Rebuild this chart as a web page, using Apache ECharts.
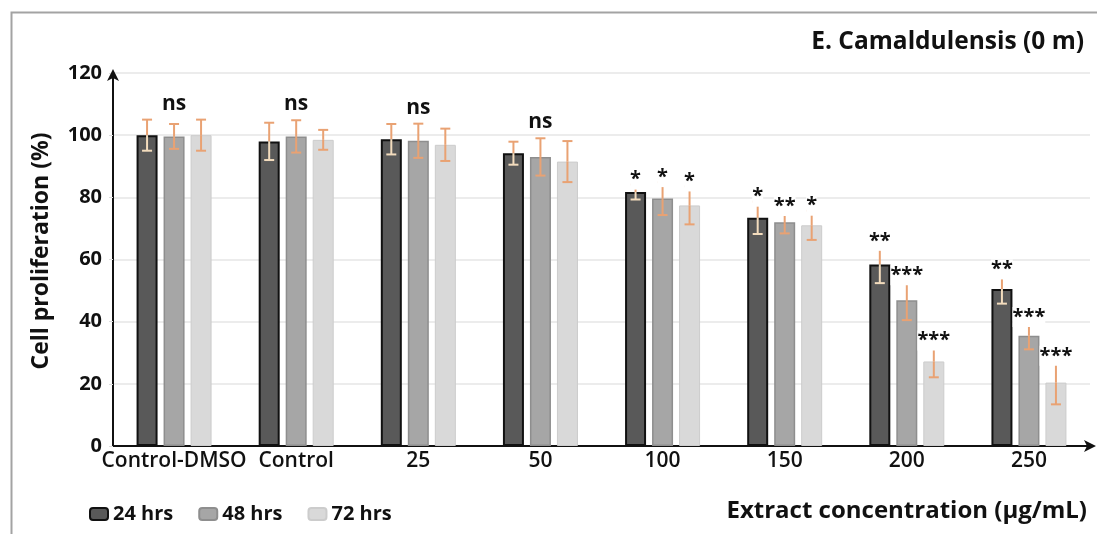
<!DOCTYPE html>
<html><head><meta charset="utf-8">
<script src="https://cdn.jsdelivr.net/npm/echarts@6/dist/echarts.min.js"></script>
<style>html,body{margin:0;padding:0;background:#fff}#c{width:1097px;height:534px}</style>
</head><body><div id="c"></div>
<script>
const categories = ['Control-DMSO','Control','25','50','100','150','200','250'];
const seriesNames = ['24 hrs','48 hrs','72 hrs'];
const v24 = [100, 98, 98.7, 94.2, 81.7, 73.4, 58.4, 50.5];
const v48 = [99.6, 99.6, 98.2, 93, 79.6, 72, 46.9, 35.5];
const v72 = [100, 98.5, 96.9, 91.5, 77.4, 71, 27.2, 20.4];
const e24 = [5, 6, 4.9, 3.7, 2.4, 5.2, 6, 4.7];
const e48 = [4, 5.2, 5.5, 6, 5.3, 3.6, 6.4, 4.4];
const e72 = [5, 3.2, 5.2, 6.6, 6.1, 4.7, 5.1, 7];
const sig24 = ['', '', '', '', '*', '*', '**', '**'];
const sig48 = ['', '', '', '', '*', '**', '***', '***'];
const sig72 = ['', '', '', '', '*', '*', '***', '***'];
const groupSig = ['ns', 'ns', 'ns', 'ns', '', '', '', ''];
const yTicks = [0, 20, 40, 60, 80, 100, 120];

const FONT = '"Open Sans", Lato, sans-serif';
const BW = 21, GAP = 6;
const offsets = [-(BW + GAP), 0, BW + GAP];
const vals = [v24, v48, v72], errs = [e24, e48, e72], sigs = [sig24, sig48, sig72];
const fills = ['#595959', '#a6a6a6', '#d9d9d9'];
const borders = ['#111111', '#8e8e8e', '#cccccc'];
const bwid = [2, 1.5, 1];

const chart = echarts.init(document.getElementById('c'), null, {renderer: 'canvas'});

const barSeries = seriesNames.map((n, k) => ({
  name: n, type: 'bar', data: vals[k], barWidth: BW, barGap: (GAP / BW * 100) + '%',
  itemStyle: {color: fills[k], borderColor: borders[k], borderWidth: bwid[k]}, z: 2
}));

const errSeries = seriesNames.map((n, k) => ({
  type: 'custom', z: 5, silent: true,
  data: vals[k].map((v, i) => [i, v, errs[k][i]]),
  renderItem: function (params, api) {
    const i = api.value(0), v = api.value(1), e = api.value(2);
    const x = api.coord([i, v])[0] + offsets[k];
    const yT = api.coord([i, v + e])[1], yM = api.coord([i, v])[1], yB = api.coord([i, v - e])[1];
    const up = '#e9a273', low = k === 0 ? '#f3dcbd' : '#e9a273';
    const cw = 5;
    return {type: 'group', children: [
      {type: 'line', shape: {x1: x, y1: yT, x2: x, y2: yM}, style: {stroke: up, lineWidth: 2}},
      {type: 'line', shape: {x1: x, y1: yM, x2: x, y2: yB}, style: {stroke: low, lineWidth: 2}},
      {type: 'line', shape: {x1: x - cw, y1: yT, x2: x + cw, y2: yT}, style: {stroke: up, lineWidth: 2}},
      {type: 'line', shape: {x1: x - cw, y1: yB, x2: x + cw, y2: yB}, style: {stroke: low, lineWidth: 2}}
    ]};
  }
}));

const starData = [];
for (let k = 0; k < 3; k++) for (let i = 0; i < categories.length; i++)
  if (sigs[k][i]) starData.push([i, vals[k][i] + errs[k][i], k, sigs[k][i]]);
const nsData = [];
for (let i = 0; i < categories.length; i++) if (groupSig[i]) {
  let m = 0; for (let k = 0; k < 3; k++) m = Math.max(m, vals[k][i] + errs[k][i]);
  nsData.push([i, m, 1, groupSig[i]]);
}
const allSig = starData.concat(nsData);

const sigSeries = {
  type: 'custom', z: 6, silent: true,
  data: allSig.map(d => [d[0], d[1], d[2]]),
  renderItem: function (params, api) {
    const i = api.value(0), y = api.value(1), k = api.value(2);
    const txt = allSig[params.dataIndex][3];
    const isNs = txt === 'ns';
    const p = api.coord([i, y]);
    return {type: 'text', x: p[0] + offsets[k], y: p[1] - (isNs ? 16 : 5), style: {
      text: txt, fill: '#111', font: 'bold ' + (isNs ? 21 : 20) + 'px ' + FONT,
      align: 'center', verticalAlign: 'middle', backgroundColor: '#fff'
    }};
  }
};

chart.setOption({
  animation: false,
  legend: {data: seriesNames, left: 84, top: 499, itemWidth: 18, itemHeight: 12, itemGap: 25,
    textStyle: {fontFamily: FONT, fontWeight: 'bold', fontSize: 20, color: '#111'}},
  grid: {left: 113, right: 7, top: 73, bottom: 88, containLabel: false},
  xAxis: {type: 'category', data: categories,
    axisLine: {lineStyle: {color: '#111', width: 2}, symbol: ['none', 'arrow'], symbolSize: [9, 12], symbolOffset: [0, 6]},
    axisTick: {show: false},
    axisLabel: {fontFamily: FONT, fontSize: 21, fontWeight: 600, color: '#111', margin: 5, interval: 0}},
  yAxis: {type: 'value', min: 0, max: 120, interval: 20,
    axisLine: {show: true, lineStyle: {color: '#111', width: 2}, symbol: ['none', 'arrow'], symbolSize: [9, 12], symbolOffset: [0, 4]},
    axisTick: {show: true, length: 4, lineStyle: {color: '#ddd'}},
    splitLine: {lineStyle: {color: '#e6e6e6', width: 1.5}},
    axisLabel: {fontFamily: FONT, fontSize: 20, fontWeight: 'bold', color: '#111', margin: 11,
      formatter: v => yTicks.indexOf(v) >= 0 ? String(v) : ''}},
  graphic: [
    {type: 'rect', left: 9, top: 10, shape: {width: 1200, height: 700}, style: {fill: 'none', stroke: '#a3a3a3', lineWidth: 2}, silent: true},
    {type: 'text', x: 1084, y: 42, style: {text: 'E. Camaldulensis (0 m)', font: 'bold 24.5px ' + FONT, fill: '#111', align: 'right', verticalAlign: 'middle'}},
    {type: 'text', x: 1087, y: 511, style: {text: 'Extract concentration (\u00b5g/mL)', font: 'bold 24px ' + FONT, fill: '#111', align: 'right', verticalAlign: 'middle'}},
    {type: 'text', x: 41, y: 251, rotation: Math.PI / 2, style: {text: 'Cell proliferation (%)', font: 'bold 23px ' + FONT, fill: '#111', align: 'center', verticalAlign: 'middle'}}
  ],
  series: barSeries.concat(errSeries, [sigSeries])
});
</script></body></html>
